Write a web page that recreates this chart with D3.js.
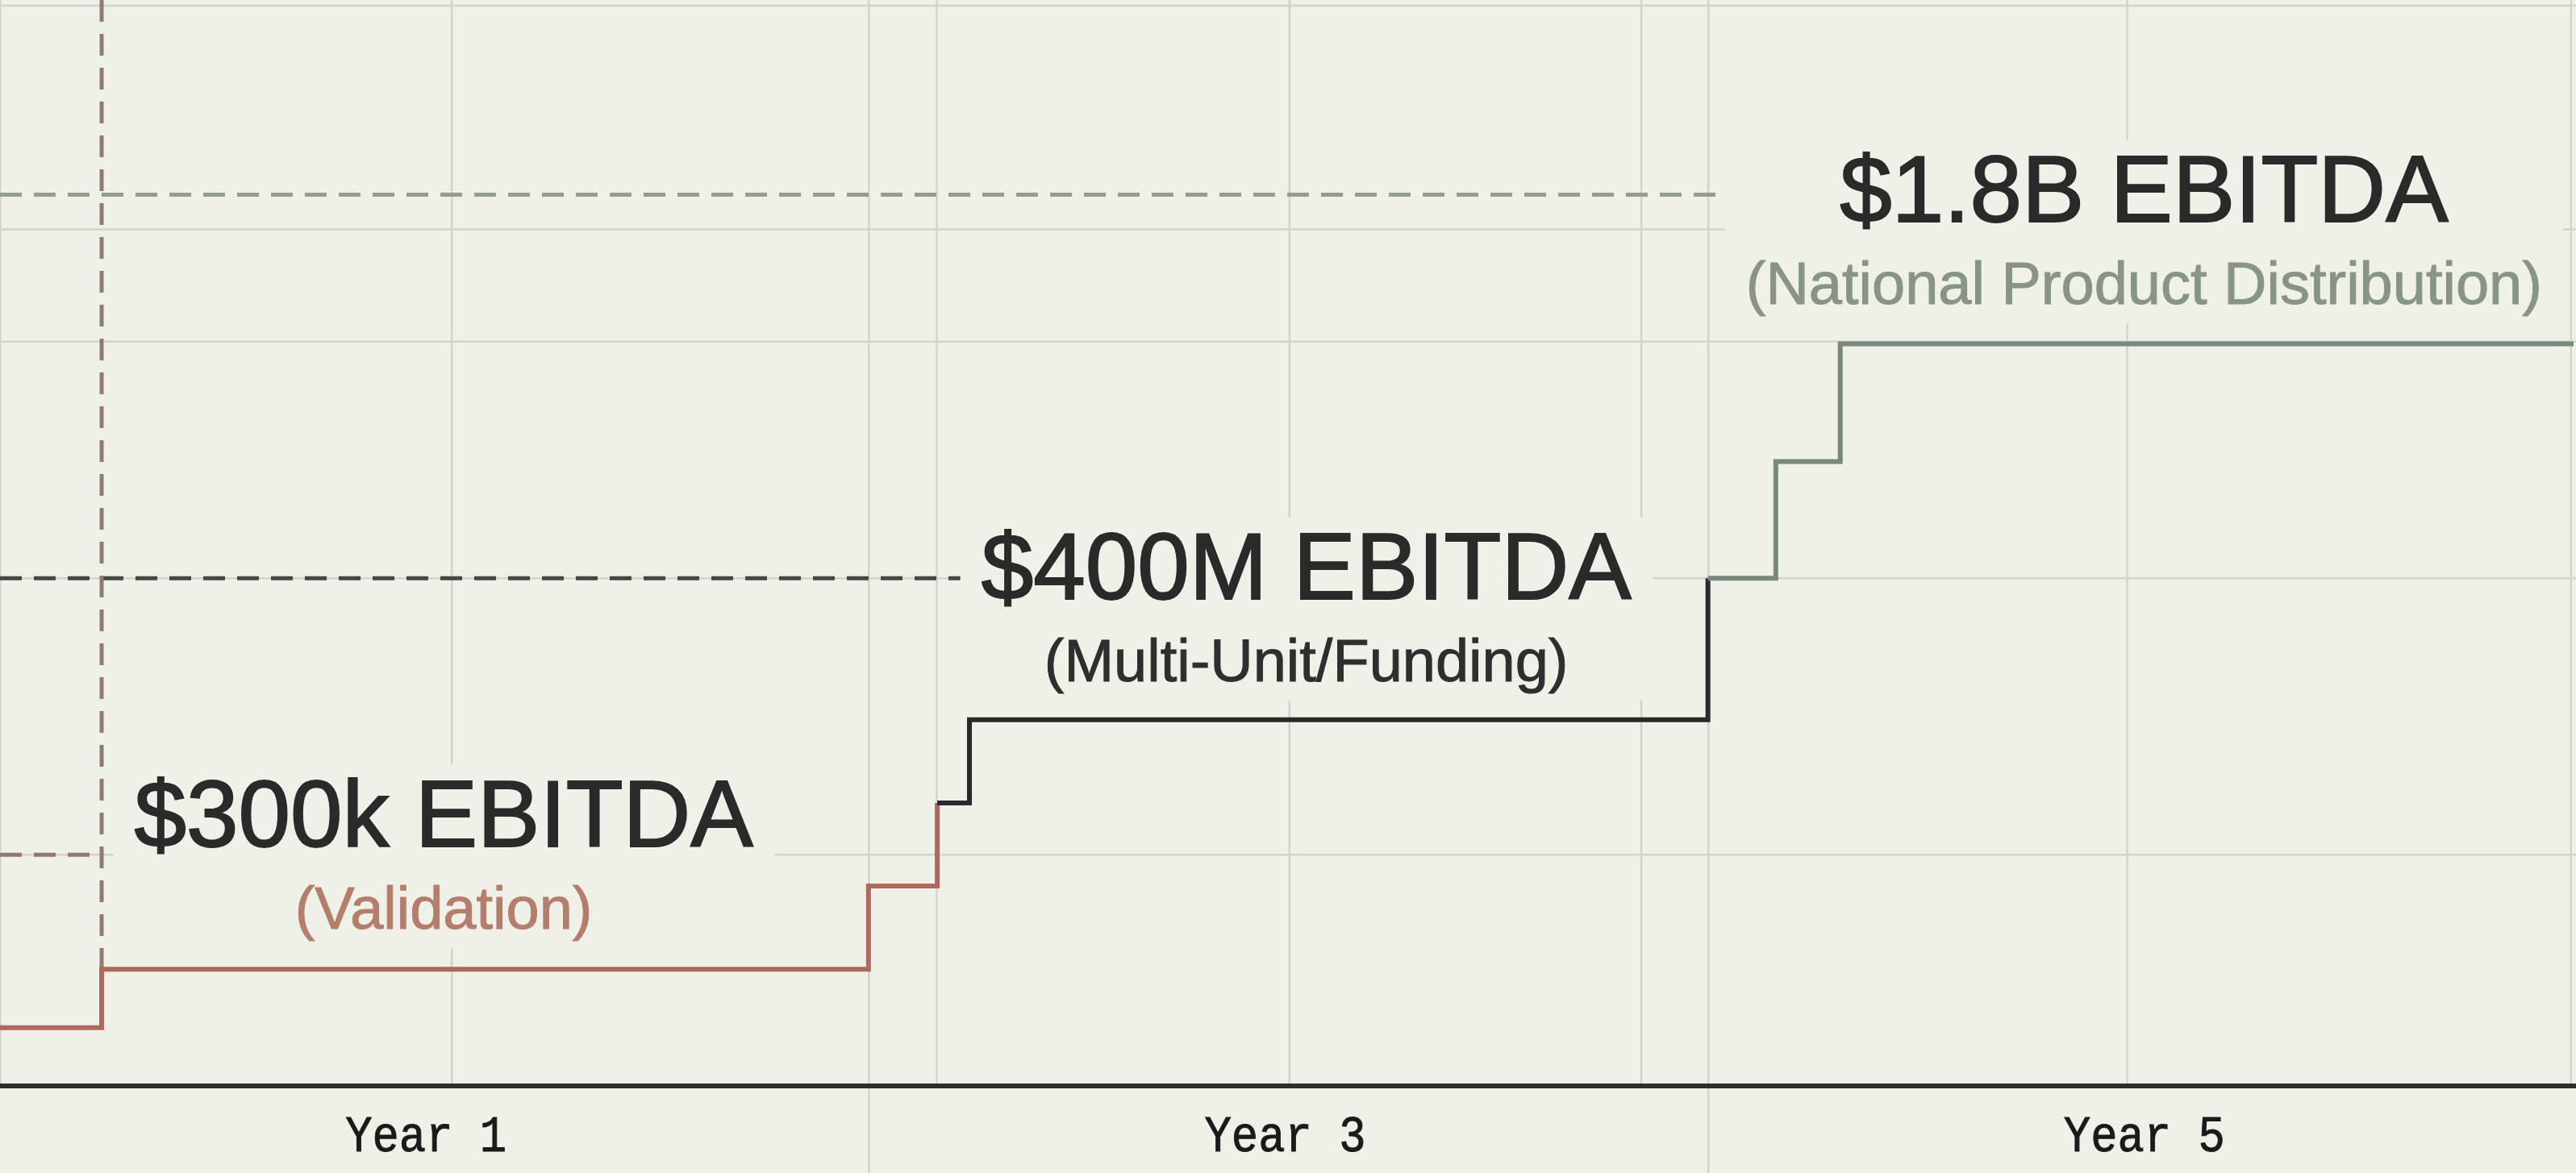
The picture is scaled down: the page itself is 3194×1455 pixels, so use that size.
<!DOCTYPE html>
<html>
<head>
<meta charset="utf-8">
<script src="https://cdn.jsdelivr.net/npm/d3@7/dist/d3.min.js"></script>
<style>
  html, body { margin: 0; padding: 0; background: #eff0e8; }
  svg { display: block; }
</style>
</head>
<body>
<svg width="3194" height="1455"></svg>
<script>
// step values per phase: [year, growth index]
var phase1 = [[0, 5.4], [0.246, 10.8], [2.031, 18.5], [2.191, 26.2]];
var phase2 = [[2.191, 26.2], [2.266, 33.9], [3.985, 47.0]];
var phase3 = [[3.985, 47.0], [4.143, 57.8], [4.293, 68.7], [6, 68.7]];

var years = [1, 3, 5];
var gridX = [0.01, 1.061, 2.032, 2.19, 3.011, 3.83, 3.986, 4.961, 5.994];
var phaseBounds = [2.032, 3.986];
var gridY = [21.4, 47.0, 68.9, 79.3, 100];

// dashed target lines: value and where they stop
var targetValues = [21.4, 47.0, 82.5];
var targetEnds = [0.246, 3.05, 5.0];
var markerX = 0.246;

var titles = ["$300k EBITDA", "$400M EBITDA", "$1.8B EBITDA"];
var subtitles = ["(Validation)", "(Multi-Unit/Funding)", "(National Product Distribution)"];
var labelX = [1.042, 3.05, 5.0];
var labelY = [22.2, 45.1, 80.0];

var phaseColors = ["#ad6a5a", "#292929", "#7a877c"];
var subColors = ["#b47d6c", "#2e2e2e", "#879487"];
var targetColors = ["#8f7b74", "#454545", "#939e92"];

var svg = d3.select("svg"),
    width = +svg.attr("width"),
    height = +svg.attr("height"),
    baseY = 1347;

var x = d3.scaleLinear().domain([0, 6]).range([-5, 3191]);
var y = d3.scaleLinear().domain([0, 100]).range([baseY, 7]);

svg.append("rect")
    .attr("width", width)
    .attr("height", height)
    .attr("fill", "#eff0e8");

// grid
var grid = svg.append("g").attr("stroke", "#d2d4cb").attr("stroke-width", 2.5);

grid.selectAll(".gx")
    .data(gridX)
    .enter().append("line")
    .attr("x1", function (d) { return x(d); })
    .attr("x2", function (d) { return x(d); })
    .attr("y1", 0)
    .attr("y2", function (d) { return phaseBounds.indexOf(d) >= 0 ? height : baseY; });

grid.selectAll(".gy")
    .data(gridY)
    .enter().append("line")
    .attr("x1", 0)
    .attr("x2", width)
    .attr("y1", function (d) { return y(d); })
    .attr("y2", function (d) { return y(d); });

// dashed targets
var dash = svg.append("g")
    .attr("stroke-width", 5)
    .attr("stroke-dasharray", "27,15")
    .attr("fill", "none");

dash.selectAll(".target")
    .data(targetValues)
    .enter().append("line")
    .attr("x1", 0)
    .attr("x2", function (d, i) { return x(targetEnds[i]); })
    .attr("y1", function (d) { return y(d); })
    .attr("y2", function (d) { return y(d); })
    .attr("stroke", function (d, i) { return targetColors[i]; });

dash.append("line")
    .attr("x1", x(markerX))
    .attr("x2", x(markerX))
    .attr("y1", 0)
    .attr("y2", y(phase1[1][1]))
    .attr("stroke", targetColors[0]);

// labels with background boxes
titles.forEach(function (t, i) {
    var g = svg.append("g");
    var box = g.append("rect").attr("fill", "#eff0e8");
    g.append("text")
        .attr("x", x(labelX[i]))
        .attr("y", y(labelY[i]))
        .attr("text-anchor", "middle")
        .attr("font-family", "'Liberation Sans', Arial, sans-serif")
        .attr("font-size", 116)
        .attr("fill", "#2a2a2a")
        .attr("stroke", "#2a2a2a")
        .attr("stroke-width", 2)
        .text(t);
    g.append("text")
        .attr("x", x(labelX[i]))
        .attr("y", y(labelY[i]) + 102)
        .attr("text-anchor", "middle")
        .attr("font-family", "'Liberation Sans', Arial, sans-serif")
        .attr("font-size", 74)
        .attr("fill", subColors[i])
        .attr("stroke", subColors[i])
        .attr("stroke-width", 1)
        .text(subtitles[i]);
    var b = g.node().getBBox();
    box.attr("x", b.x - 26).attr("y", b.y + 4)
        .attr("width", b.width + 52).attr("height", b.height + 4);
});

// step line
var line = d3.line()
    .x(function (d) { return x(d[0]); })
    .y(function (d) { return y(d[1]); })
    .curve(d3.curveStepAfter);

svg.selectAll(".phase")
    .data([phase1, phase2, phase3])
    .enter().append("path")
    .attr("d", line)
    .attr("fill", "none")
    .attr("stroke", function (d, i) { return phaseColors[i]; })
    .attr("stroke-width", 6)
    .attr("stroke-linejoin", "miter");

// baseline + year labels
svg.append("line")
    .attr("x1", 0).attr("x2", width)
    .attr("y1", baseY).attr("y2", baseY)
    .attr("stroke", "#2c2c2c")
    .attr("stroke-width", 6);

var axis = svg.append("g")
    .attr("transform", "translate(0," + baseY + ")")
    .call(d3.axisBottom(x).tickValues(years).tickSize(0)
        .tickFormat(function (d) { return "Year " + d; }));

axis.select(".domain").remove();
axis.selectAll("text")
    .attr("y", 81)
    .attr("dy", 0)
    .attr("font-family", "'Liberation Mono', 'DejaVu Sans Mono', monospace")
    .attr("font-size", 63)
    .attr("textLength", 200)
    .attr("lengthAdjust", "spacingAndGlyphs")
    .attr("fill", "#1a1a1a")
    .attr("stroke", "#1a1a1a")
    .attr("stroke-width", 1);
</script>
</body>
</html>
